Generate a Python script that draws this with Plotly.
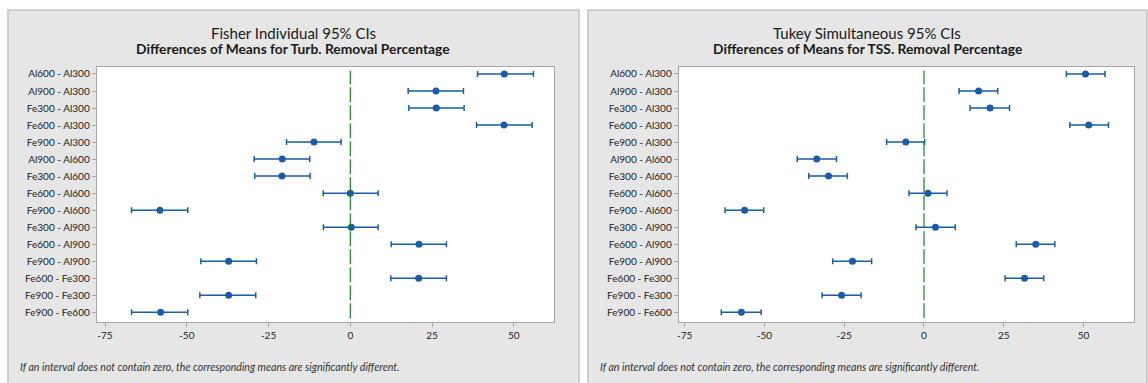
import plotly.graph_objects as go

categories = ["Al600 - Al300", "Al900 - Al300", "Fe300 - Al300", "Fe600 - Al300",
              "Fe900 - Al300", "Al900 - Al600", "Fe300 - Al600", "Fe600 - Al600",
              "Fe900 - Al600", "Fe300 - Al900", "Fe600 - Al900", "Fe900 - Al900",
              "Fe600 - Fe300", "Fe900 - Fe300", "Fe900 - Fe600"]

fisher_mean = [47.1, 26.2, 26.3, 47.0, -11.1, -20.8, -20.9, 0.0, -58.2, 0.3, 21.0, -37.2, 20.9, -37.2, -58.0]
fisher_lo = [38.9, 17.7, 17.9, 38.6, -19.5, -29.4, -29.2, -8.3, -66.9, -8.2, 12.5, -45.7, 12.4, -46.0, -66.9]
fisher_hi = [56.0, 34.6, 34.8, 55.6, -2.8, -12.4, -12.3, 8.5, -49.7, 8.5, 29.4, -28.7, 29.4, -28.9, -49.7]

tukey_mean = [50.6, 17.1, 20.7, 51.6, -5.7, -33.6, -29.9, 1.25, -56.2, 3.6, 35.0, -22.4, 31.5, -25.8, -57.2]
tukey_lo = [44.6, 11.0, 14.4, 45.7, -11.7, -39.7, -36.1, -4.7, -62.3, -2.5, 28.9, -28.6, 25.4, -31.9, -63.5]
tukey_hi = [56.7, 23.1, 26.8, 57.8, 0.2, -27.4, -24.0, 7.2, -50.2, 9.8, 41.0, -16.4, 37.5, -19.7, -51.0]

titles = ["Fisher Individual 95% CIs", "Tukey Simultaneous 95% CIs"]
subtitles = ["Differences of Means for Turb. Removal Percentage",
             "Differences of Means for TSS. Removal Percentage"]
x_ticks = [-75, -50, -25, 0, 25, 50]
x_tick_labels = ["-75", "-50", "-25", "0", "25", "50"]
footnote = "If an interval does not contain zero, the corresponding means are significantly different."

W, H = 1148, 383
def px(x):
    return x / W
def py(y):
    return 1 - y / H

FONT = "Segoe UI, Lato, Noto Sans, sans-serif"
BLUE = "#1a5ca7"

fig = go.Figure()

panels = [
    dict(mean=fisher_mean, lo=fisher_lo, hi=fisher_hi, xa="x", ya="y",
         dom=(95, 553), rng=[-77.5, 62.3], box=(6, 578)),
    dict(mean=tukey_mean, lo=tukey_lo, hi=tukey_hi, xa="x2", ya="y2",
         dom=(678, 1134), rng=[-76.8, 65.8], box=(587, 1147)),
]

shapes = []
annotations = []
for i, p in enumerate(panels):
    plus = [h - m for h, m in zip(p["hi"], p["mean"])]
    minus = [m - l for m, l in zip(p["mean"], p["lo"])]
    fig.add_trace(go.Scatter(
        x=p["mean"], y=list(range(len(categories))), mode="markers",
        marker=dict(color=BLUE, size=7),
        error_x=dict(type="data", symmetric=False, array=plus, arrayminus=minus,
                     color=BLUE, thickness=1.5, width=3),
        xaxis=p["xa"], yaxis=p["ya"], showlegend=False, hoverinfo="x+y"))
    # panel background
    shapes.append(dict(type="rect", xref="paper", yref="paper", layer="below",
                       x0=px(p["box"][0]), x1=px(p["box"][1]), y0=py(390), y1=py(10),
                       fillcolor="#e6e6e6", line=dict(color="#c4c4c4", width=1.5)))
    # white plot area
    shapes.append(dict(type="rect", xref=p["xa"] + " domain", yref=p["ya"] + " domain",
                       layer="below", x0=0, x1=1, y0=0, y1=1,
                       fillcolor="white", line=dict(width=0)))
    # zero reference line
    shapes.append(dict(type="line", xref=p["xa"], yref=p["ya"] + " domain",
                       x0=0, x1=0, y0=0.015, y1=0.985,
                       line=dict(color="#138a22", width=1.2, dash="15px,3px")))
    cx = px((p["box"][0] + p["box"][1]) / 2)
    annotations.append(dict(text=titles[i], xref="paper", yref="paper", x=cx, y=py(33),
                            showarrow=False, xanchor="center", yanchor="middle",
                            font=dict(family=FONT, size=15, color="#1a1a1a")))
    annotations.append(dict(text="<b>" + subtitles[i] + "</b>", xref="paper", yref="paper",
                            x=cx, y=py(49), showarrow=False, xanchor="center", yanchor="middle",
                            font=dict(family=FONT, size=13.8, color="#1a1a1a")))
    annotations.append(dict(text="<i>" + footnote + "</i>", xref="paper", yref="paper",
                            x=px(p["box"][0] + 10), y=py(367), showarrow=False,
                            xanchor="left", yanchor="middle",
                            font=dict(family=FONT, size=10.6, color="#333333")))

ax_common = dict(showgrid=False, zeroline=False, showline=True, mirror=True,
                 linecolor="#a6a6a6", linewidth=1.2, ticks="outside", ticklen=4,
                 tickcolor="#a6a6a6", tickfont=dict(family=FONT, size=10, color="#222222"))

layout_axes = {}
for i, p in enumerate(panels):
    sfx = "" if i == 0 else "2"
    layout_axes["xaxis" + sfx] = dict(ax_common, domain=[px(p["dom"][0]), px(p["dom"][1])],
                                      range=p["rng"], tickvals=x_ticks,
                                      ticktext=x_tick_labels, anchor="y" + sfx)
    layout_axes["yaxis" + sfx] = dict(ax_common, domain=[py(322), py(67)],
                                      range=[14.57, -0.41],
                                      tickvals=list(range(len(categories))),
                                      ticktext=categories, anchor="x" + sfx)

fig.update_layout(
    width=W, height=H, margin=dict(l=0, r=0, t=0, b=0),
    paper_bgcolor="white", plot_bgcolor="white",
    shapes=shapes, annotations=annotations,
    **layout_axes)

fig.write_html("out.html", config={"displayModeBar": False},
               post_script="document.body.style.margin='0px';")
